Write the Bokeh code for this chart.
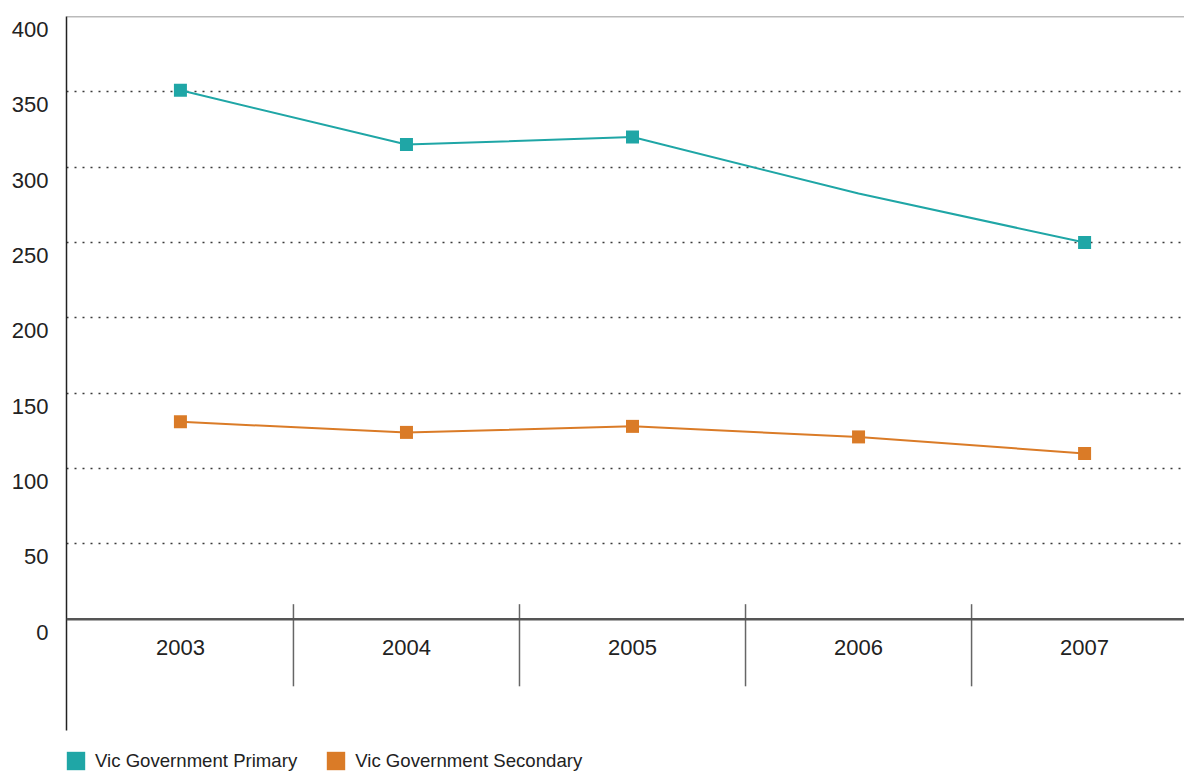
from bokeh.plotting import figure
from bokeh.models import (Range1d, LinearAxis, FixedTicker, Grid, Span,
                          Legend, LegendItem)
from bokeh.embed import file_html
from bokeh.resources import INLINE
from bokeh.core.properties import value

# Data
years = ["2003", "2004", "2005", "2006", "2007"]
primary = [351, 315, 320, 282.5, 250]
primary_marked = [True, True, True, False, True]
secondary = [131, 124, 128, 121, 110]
secondary_marked = [True, True, True, True, True]
y_ticks = [0, 50, 100, 150, 200, 250, 300, 350, 400]
grid_ticks = [50, 100, 150, 200, 250, 300, 350]

TEAL = "#1FA6A6"
ORANGE = "#DA7B27"
FONT = "Liberation Sans"
TEXT = "#222222"

Y_AXIS_MIN, Y_MAX = -73.8, 400
Y_MIN = -101.7          # extra room at the bottom for the legend
LABEL_SHIFT = 8.65      # tick labels sit just under their gridline

xs = list(range(len(years)))

p = figure(width=1184, height=772,
           x_range=Range1d(-0.504, 4.442), y_range=Range1d(Y_MIN, Y_MAX),
           x_axis_location=None, y_axis_location=None,
           toolbar_location=None, output_backend="svg",
           min_border_left=66, min_border_right=0,
           min_border_top=16, min_border_bottom=0,
           outline_line_color=None)
for g in p.xgrid + p.ygrid:
    g.visible = False

# y labels on a slightly shifted range so each label hangs below its line
p.extra_y_ranges = {"lab": Range1d(Y_MIN + LABEL_SHIFT, Y_MAX + LABEL_SHIFT)}
yaxis = LinearAxis(y_range_name="lab", ticker=FixedTicker(ticks=y_ticks),
                   bounds=(Y_AXIS_MIN + LABEL_SHIFT, Y_MAX + LABEL_SHIFT),
                   major_tick_in=0, major_tick_out=0,
                   minor_tick_line_color=None,
                   major_label_standoff=18,
                   axis_line_color="#222222", axis_line_width=1.5,
                   major_label_text_font=FONT,
                   major_label_text_font_size="22px",
                   major_label_text_color=TEXT)
p.add_layout(yaxis, "left")

p.add_layout(Grid(dimension=1, ticker=FixedTicker(ticks=grid_ticks),
                  grid_line_color="#3a3a3a", grid_line_dash="2 6",
                  grid_line_width=1.3))

p.add_layout(Span(location=Y_MAX, dimension="width",
                  line_color="#777777", line_width=1.5))
p.add_layout(Span(location=0, dimension="width",
                  line_color="#555555", line_width=2.5))

# category separators and labels
sep_x = [i + 0.5 for i in xs[:-1]]
p.segment(x0=sep_x, x1=sep_x, y0=[10] * len(sep_x), y1=[-44.5] * len(sep_x),
          line_color="#666666", line_width=1.5)
p.text(x=xs, y=[-18.6] * len(xs), text=years, text_align="center",
       text_baseline="middle", text_font=value(FONT),
       text_font_size="22px", text_color=TEXT)

# series
p.line(xs, primary, line_color=TEAL, line_width=2)
p.scatter([x for x, m in zip(xs, primary_marked) if m],
          [v for v, m in zip(primary, primary_marked) if m],
          marker="square", size=13, fill_color=TEAL, line_color=None)
p.line(xs, secondary, line_color=ORANGE, line_width=2)
p.scatter([x for x, m in zip(xs, secondary_marked) if m],
          [v for v, m in zip(secondary, secondary_marked) if m],
          marker="square", size=13, fill_color=ORANGE, line_color=None)

# legend swatches (placeholder quads that draw nothing in the plot)
nan = float("nan")
r1 = p.quad(left=[nan], right=[nan], top=[nan], bottom=[nan],
            fill_color=TEAL, line_color=None)
r2 = p.quad(left=[nan], right=[nan], top=[nan], bottom=[nan],
            fill_color=ORANGE, line_color=None)
legend = Legend(items=[LegendItem(label="Vic Government Primary", renderers=[r1]),
                       LegendItem(label="Vic Government Secondary", renderers=[r2])],
                orientation="horizontal", location=(-2, 0),
                glyph_width=23, glyph_height=23, label_standoff=8,
                spacing=27, padding=0, margin=0,
                border_line_color=None, background_fill_alpha=0,
                label_text_font=FONT, label_text_font_size="18.6px",
                label_text_color=TEXT)
p.add_layout(legend)

open("out.html", "w").write(file_html(p, INLINE))
